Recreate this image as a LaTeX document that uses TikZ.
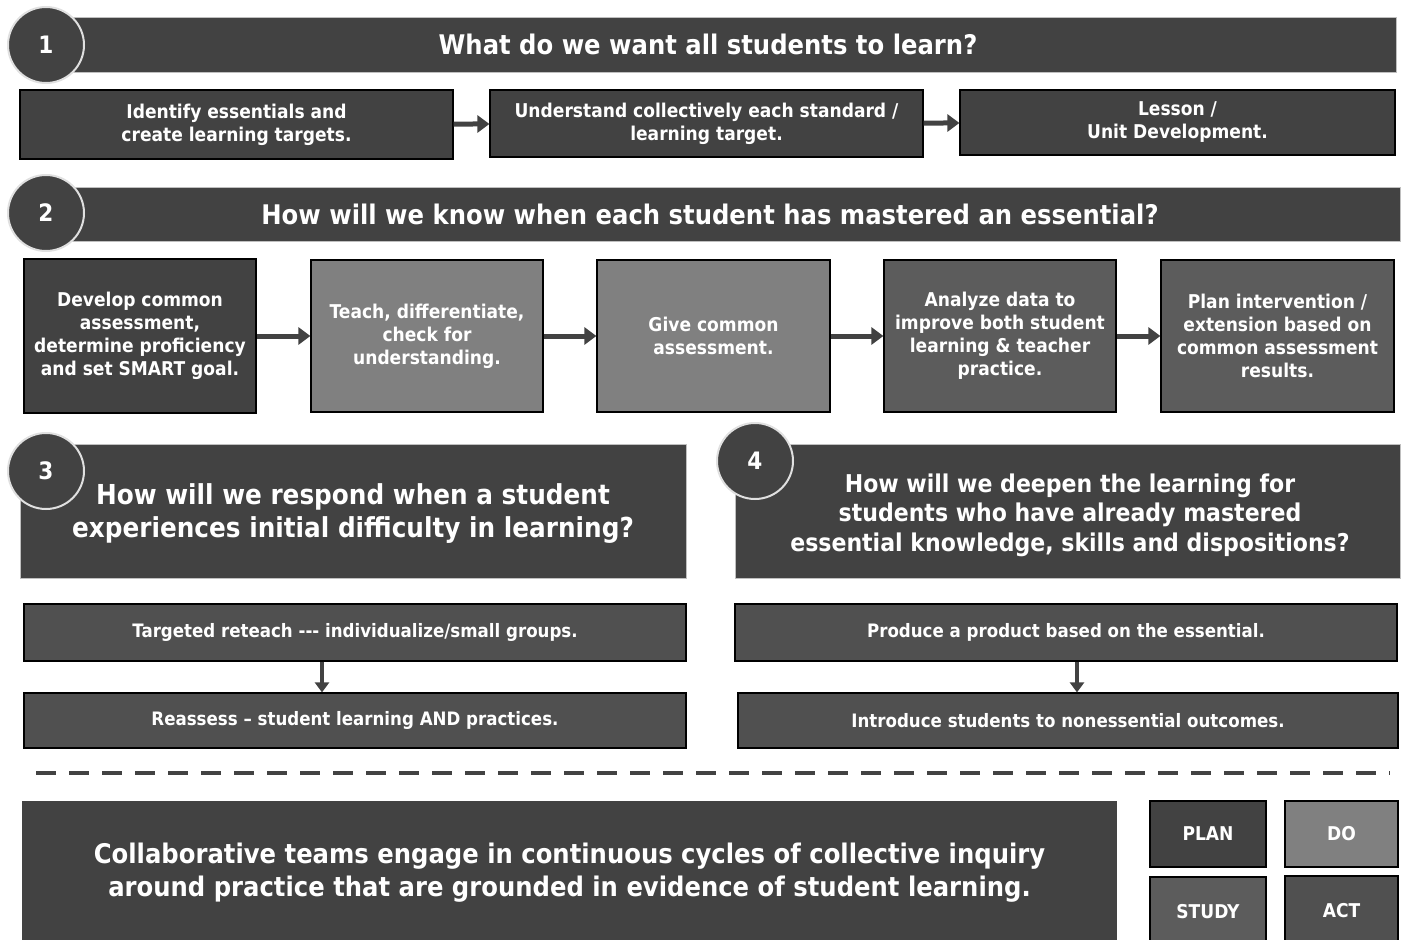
\documentclass[tikz,border=0pt]{standalone}
\usepackage{fontspec}
\setmainfont{DejaVu Sans}[FakeStretch=0.9]
\usepackage{xcolor}
\usetikzlibrary{arrows.meta}
\definecolor{dark}{HTML}{424242}
\definecolor{mid}{HTML}{808080}
\definecolor{steel}{HTML}{5C5C5C}
\definecolor{slate}{HTML}{505050}
\begin{document}
\begin{tikzpicture}[x=1pt,y=-1pt]
	 \tikzstyle{bar}=[rectangle,fill=dark,draw=black!25,text=white,inner sep=0pt,align=center,font=\fontsize{27}{31}\selectfont\bfseries]
	 \tikzstyle{caption}=[text=white,inner sep=0pt,align=center,font=\fontsize{27}{31}\selectfont\bfseries]
	 \tikzstyle{number}=[circle,fill=dark,draw=black!12,line width=2pt,text=white,minimum size=76pt,inner sep=0pt,font=\fontsize{24}{28}\selectfont\bfseries]
	 \tikzstyle{box}=[rectangle,fill=dark,draw=black,line width=1.2pt,text=white,inner sep=0pt,align=center,font=\fontsize{19}{23}\selectfont\bfseries]
	 \tikzstyle{row}=[box,fill=slate,font=\fontsize{18.5}{22}\selectfont\bfseries]
	 \tikzstyle{cycle}=[box,font=\fontsize{19}{23}\selectfont\bfseries]
	 \tikzstyle{arrow}=[draw=dark,line width=5pt,-{Triangle[length=12pt,width=17pt]}]
	 \useasboundingbox (0,0) rectangle (1401,940);
	 % question 1
	 \node[bar,minimum width=1376pt,minimum height=55pt] (q1) at (708,44.5) {What do we want all students to learn?};
	 \node[number] (n1) at (46,45) {1};
	 \node[box,minimum width=433pt,minimum height=69pt] (a1) at (236.5,124.5) {Identify essentials and\\create learning targets.};
	 \node[box,minimum width=433pt,minimum height=67pt] (a2) at (706.5,123.5) {Understand collectively each standard /\\learning target.};
	 \node[box,minimum width=435pt,minimum height=65pt] (a3) at (1177.5,122.5) {Lesson /\\Unit Development.};
	 \draw[arrow] (a1) -- (a2);
	 \draw[arrow] (a2) -- (a3);
	 % question 2
	 \node[bar,minimum width=1380pt,minimum height=54pt] (q2) at (710,214) {How will we know when each student has mastered an essential?};
	 \node[number] (n2) at (46,213) {2};
	 \node[box,minimum width=232pt,minimum height=154pt] (b1) at (140,336) {Develop common\\assessment,\\determine proficiency\\and set SMART goal.};
	 \node[box,fill=mid,minimum width=232pt,minimum height=152pt] (b2) at (427,336) {Teach, differentiate,\\check for\\understanding.};
	 \node[box,fill=mid,minimum width=233pt,minimum height=152pt] (b3) at (713.5,336) {Give common\\assessment.};
	 \node[box,fill=steel,minimum width=232pt,minimum height=152pt] (b4) at (1000,336) {Analyze data to\\improve both student\\learning \& teacher\\practice.};
	 \node[box,fill=steel,minimum width=233pt,minimum height=152pt] (b5) at (1277.5,336) {Plan intervention /\\extension based on\\common assessment\\results.};
	 \draw[arrow] (b1) -- (b2);
	 \draw[arrow] (b2) -- (b3);
	 \draw[arrow] (b3) -- (b4);
	 \draw[arrow] (b4) -- (b5);
	 % question 3
	 \node[bar,minimum width=666pt,minimum height=134pt] (q3) at (353,511) {};
	 \node[caption,font=\fontsize{27.5}{33}\selectfont\bfseries] (q3t) at (353,514) {How will we respond when a student\\experiences initial difficulty in learning?};
	 \node[number] (n3) at (46,471) {3};
	 \node[row,minimum width=662pt,minimum height=57pt] (c1) at (355,632.5) {Targeted reteach {-}{-}{-} individualize/small groups.};
	 \node[row,minimum width=662pt,minimum height=55pt] (c2) at (355,720.5) {Reassess – student learning AND practices.};
	 \draw[arrow,line width=4pt,-{Triangle[length=10pt,width=14pt]}] ([xshift=-33pt]c1.south) -- ([xshift=-33pt]c2.north);
	 % question 4
	 \node[bar,minimum width=665pt,minimum height=134pt] (q4) at (1067.5,511) {};
	 \node[caption,font=\fontsize{24.5}{29.5}\selectfont\bfseries] (q4t) at (1070,515) {How will we deepen the learning for\\students who have already mastered\\essential knowledge, skills and dispositions?};
	 \node[number] (n4) at (755,461) {4};
	 \node[row,minimum width=662pt,minimum height=57pt] (d1) at (1066,632.5) {Produce a product based on the essential.};
	 \node[row,minimum width=660pt,minimum height=55pt] (d2) at (1068,720.5) {Introduce students to nonessential outcomes.};
	 \draw[arrow,line width=4pt,-{Triangle[length=10pt,width=14pt]}] ([xshift=11pt]d1.south) -- ([xshift=9pt]d2.north);
	 % divider
	 \coordinate (left) at (36,773);
	 \coordinate (right) at (1390,773);
	 \draw[dark,line width=3.5pt,dash pattern=on 20pt off 13pt] (left) -- (right);
	 % collaborative teams
	 \node[bar,draw=none,minimum width=1095pt,minimum height=144pt,font=\fontsize{27}{33}\selectfont\bfseries] (ct) at (569.5,873) {Collaborative teams engage in continuous cycles of collective inquiry\\around practice that are grounded in evidence of student learning.};
	 \node[cycle,minimum width=116pt,minimum height=66pt] (plan) at (1208,834) {PLAN};
	 \node[cycle,fill=mid,minimum width=113pt,minimum height=66pt] (do) at (1341.5,834) {DO};
	 \node[cycle,fill=steel,minimum width=116pt,minimum height=70pt] (study) at (1208,912) {STUDY};
	 \node[cycle,fill=slate,minimum width=113pt,minimum height=70pt] (act) at (1341.5,911) {ACT};
\end{tikzpicture}
\end{document}
